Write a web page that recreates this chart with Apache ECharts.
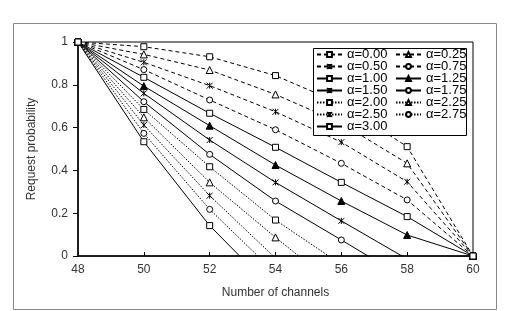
<!DOCTYPE html>
<html><head><meta charset="utf-8">
<script src="https://cdn.jsdelivr.net/npm/echarts@6/dist/echarts.min.js"></script>
<style>html,body{margin:0;padding:0;background:#fff;}#c{width:517px;height:311px;}</style>
</head><body><div id="c"></div>
<script>
const channels = [48, 50, 52, 54, 56, 58, 60];
const alphaLabels = ['α=0.00','α=0.25','α=0.50','α=0.75','α=1.00','α=1.25','α=1.50','α=1.75','α=2.00','α=2.25','α=2.50','α=2.75','α=3.00'];
const a000 = [1, 0.978, 0.931, 0.843, 0.71, 0.511, 0];
const a025 = [1, 0.942, 0.869, 0.755, 0.62, 0.433, 0];
const a050 = [1, 0.905, 0.796, 0.674, 0.532, 0.347, 0];
const a075 = [1, 0.871, 0.729, 0.59, 0.433, 0.262, 0];
const a100 = [1, 0.835, 0.667, 0.508, 0.344, 0.184, 0];
const a125 = [1, 0.794, 0.609, 0.425, 0.257, 0.098, 0];
const a150 = [1, 0.76, 0.542, 0.344, 0.164, -0.014, 0];
const a175 = [1, 0.721, 0.475, 0.257, 0.075, -0.11, 0];
const a200 = [1, 0.685, 0.417, 0.168, -0.04, -0.2, 0];
const a225 = [1, 0.648, 0.344, 0.087, -0.16, -0.3, 0];
const a250 = [1, 0.612, 0.282, -0.01, -0.26, -0.4, 0];
const a275 = [1, 0.573, 0.218, -0.08, -0.35, -0.5, 0];
const a300 = [1, 0.534, 0.142, -0.17, -0.45, -0.6, 0];
const yTicks = [0, 0.2, 0.4, 0.6, 0.8, 1];
const xTicks = [48, 50, 52, 54, 56, 58, 60];

const allData = [a000,a025,a050,a075,a100,a125,a150,a175,a200,a225,a250,a275,a300];
const STAR = 'path://M0,0L10,10M10,0L0,10M5,0L5,10';
const styles = [
  {dash:[4,3], sym:'rect', fill:'#fff'},
  {dash:[4,3], sym:'triangle', fill:'#fff'},
  {dash:[4,3], sym:STAR, fill:'none'},
  {dash:[4,3], sym:'circle', fill:'#fff'},
  {dash:'solid', sym:'rect', fill:'#fff'},
  {dash:'solid', sym:'triangle', fill:'#000'},
  {dash:'solid', sym:STAR, fill:'none'},
  {dash:'solid', sym:'circle', fill:'#fff'},
  {dash:[1.5,1.5], sym:'rect', fill:'#fff'},
  {dash:[1.5,1.5], sym:'triangle', fill:'#fff'},
  {dash:[1.5,1.5], sym:STAR, fill:'none'},
  {dash:[1.5,1.5], sym:'circle', fill:'#fff'},
  {dash:'solid', sym:'rect', fill:'#fff'}
];

const series = allData.map((arr, i) => ({
  name: alphaLabels[i],
  type: 'line',
  data: channels.map((x, j) => [x, arr[j]]),
  clip: true,
  symbol: styles[i].sym,
  symbolSize: styles[i].sym === 'triangle' ? 7 : 6,
  showAllSymbol: true,
  animation: false,
  lineStyle: {color:'#000', width:1, type: styles[i].dash},
  itemStyle: {color: styles[i].fill, borderColor:'#000', borderWidth:1},
  emphasis: {disabled:true},
  z: 2
}));

const legendCommon = {
  orient: 'vertical',
  top: 48,
  padding: 0,
  itemGap: -1,
  itemWidth: 25,
  itemHeight: 6,
  z: 20,
  textStyle: {fontSize: 13, lineHeight: 12, color:'#000', fontFamily:'Liberation Sans, Arial, sans-serif'}
};

const chart = echarts.init(document.getElementById('c'), null, {renderer:'canvas'});
chart.setOption({
  backgroundColor: '#fff',
  animation: false,
  graphic: [
    {type:'rect', shape:{x:13.5, y:23.5, width:483, height:286}, style:{fill:'none', stroke:'#888', lineWidth:1}, z:0, silent:true},
    {type:'rect', shape:{x:313.5, y:48.5, width:153, height:87}, style:{fill:'#fff', stroke:'#000', lineWidth:1}, z:15, silent:true}
  ],
  grid: {left:78, top:42, right:44, bottom:55, show:true, borderColor:'#000', borderWidth:1, backgroundColor:'transparent'},
  legend: [
    Object.assign({}, legendCommon, {left:316, data: alphaLabels.filter((_, i) => i % 2 === 0)}),
    Object.assign({}, legendCommon, {left:395, data: alphaLabels.filter((_, i) => i % 2 === 1)})
  ],
  xAxis: {
    type:'value', min: xTicks[0], max: xTicks[xTicks.length-1], interval: 2,
    name:'Number of channels', nameLocation:'middle', nameGap: 31,
    nameTextStyle:{fontSize:12, color:'#333', fontFamily:'Liberation Sans, Arial, sans-serif'},
    axisLine:{lineStyle:{color:'#000', width:1.5}},
    axisTick:{inside:true, length:4, lineStyle:{color:'#000'}},
    axisLabel:{fontSize:12, color:'#333', margin:8, fontFamily:'Liberation Sans, Arial, sans-serif'},
    splitLine:{show:false}
  },
  yAxis: {
    type:'value', min: yTicks[0], max: yTicks[yTicks.length-1], interval: 0.2,
    name:'Request probability', nameLocation:'middle', nameGap: 40,
    nameTextStyle:{fontSize:12, color:'#333', fontFamily:'Liberation Sans, Arial, sans-serif'},
    axisLine:{show:true, lineStyle:{color:'#000', width:1.5}},
    axisTick:{show:true, inside:false, length:5, lineStyle:{color:'#000'}},
    axisLabel:{fontSize:12, color:'#333', margin:10, fontFamily:'Liberation Sans, Arial, sans-serif',
      formatter: v => String(Math.round(v*10)/10)},
    splitLine:{show:false}
  },
  series: series
});
</script></body></html>
